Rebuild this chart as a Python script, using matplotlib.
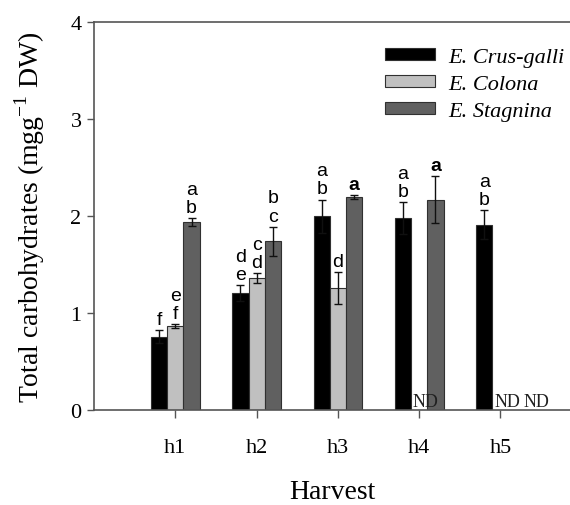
import numpy as np
import matplotlib.pyplot as plt

# harvest categories and species
harvests = ['h1', 'h2', 'h3', 'h4', 'h5']
species = ['E. Crus-galli', 'E. Colona', 'E. Stagnina']

# total carbohydrates (mg g-1 DW), NaN = not determined
crus_galli = [0.76, 1.21, 2.00, 1.98, 1.91]
colona = [0.87, 1.36, 1.26, np.nan, np.nan]
stagnina = [1.94, 1.74, 2.20, 2.17, np.nan]

crus_err = [0.07, 0.08, 0.17, 0.16, 0.15]
colona_err = [0.02, 0.05, 0.16, np.nan, np.nan]
stagnina_err = [0.04, 0.15, 0.02, 0.24, np.nan]

# significance letters
crus_letters = ['f', 'd\ne', 'a\nb', 'a\nb', 'a\nb']
colona_letters = ['e\nf', 'c\nd', 'd', '', '']
stagnina_letters = ['a\nb', 'b\nc', 'a', 'a', '']

colors = ['#000000', '#c0c0c0', '#606060']
serif = 'Liberation Serif'
sans = 'Liberation Sans'

plt.rcParams['mathtext.fontset'] = 'custom'
plt.rcParams['mathtext.rm'] = serif

fig = plt.figure(figsize=(5.7, 5.06), dpi=100)
ax = fig.add_axes([0.165, 0.187, 0.835, 0.768])

x = np.arange(1, len(harvests) + 1)
width = 0.2

all_vals = [crus_galli, colona, stagnina]
all_errs = [crus_err, colona_err, stagnina_err]
all_letters = [crus_letters, colona_letters, stagnina_letters]

for i in range(3):
    xs = x + (i - 1) * width
    vals = np.array(all_vals[i])
    errs = np.array(all_errs[i])
    ax.bar(xs, vals, width, color=colors[i], edgecolor='#303030', linewidth=0.8,
           label=species[i])
    ax.errorbar(xs, vals, yerr=errs, fmt='none', ecolor='#101010', elinewidth=1,
                capsize=3, capthick=1)
    for j in range(len(harvests)):
        lab = all_letters[i][j]
        if lab == '' or np.isnan(vals[j]):
            continue
        bold = 'bold' if (i == 2 and lab == 'a') else 'normal'
        ax.annotate(lab, (xs[j], vals[j] + errs[j]), xytext=(0, 1.5),
                    textcoords='offset points', ha='center', va='bottom',
                    fontsize=14, family=sans, linespacing=1.1,
                    fontweight=bold)

# not determined labels
nd_x = [4.08, 5.08, 5.44]
for xx in nd_x:
    ax.text(xx, 0.04, 'ND', ha='center', va='baseline', fontsize=13,
            family=serif, color='#202020')

ax.set_xlim(0, 5.855)
ax.set_ylim(0, 4)
ax.set_xticks(x)
ax.set_xticklabels(harvests, family=serif, fontsize=16)
ax.set_yticks([0, 1, 2, 3, 4])
ax.set_yticklabels(['0', '1', '2', '3', '4'], family=serif, fontsize=16)
ax.tick_params(axis='x', length=6, width=1, color='#555555', pad=14)
ax.tick_params(axis='y', length=5, width=1, color='#555555', pad=4)

ax.spines['right'].set_visible(False)
for s in ['left', 'bottom', 'top']:
    ax.spines[s].set_color('#555555')
    ax.spines[s].set_linewidth(1.2)

ax.set_xlabel('Harvest', family=serif, fontsize=20, labelpad=16)
ax.set_ylabel('Total carbohydrates (mgg$^{-1}$ DW)', family=serif, fontsize=20,
              labelpad=17)

leg = ax.legend(loc='upper right', bbox_to_anchor=(1.03, 0.985), frameon=False,
                prop={'family': serif, 'style': 'italic', 'size': 16},
                handlelength=2.25, handleheight=0.5, labelspacing=0.35,
                handletextpad=0.6)

plt.savefig('out.png', dpi=100)
